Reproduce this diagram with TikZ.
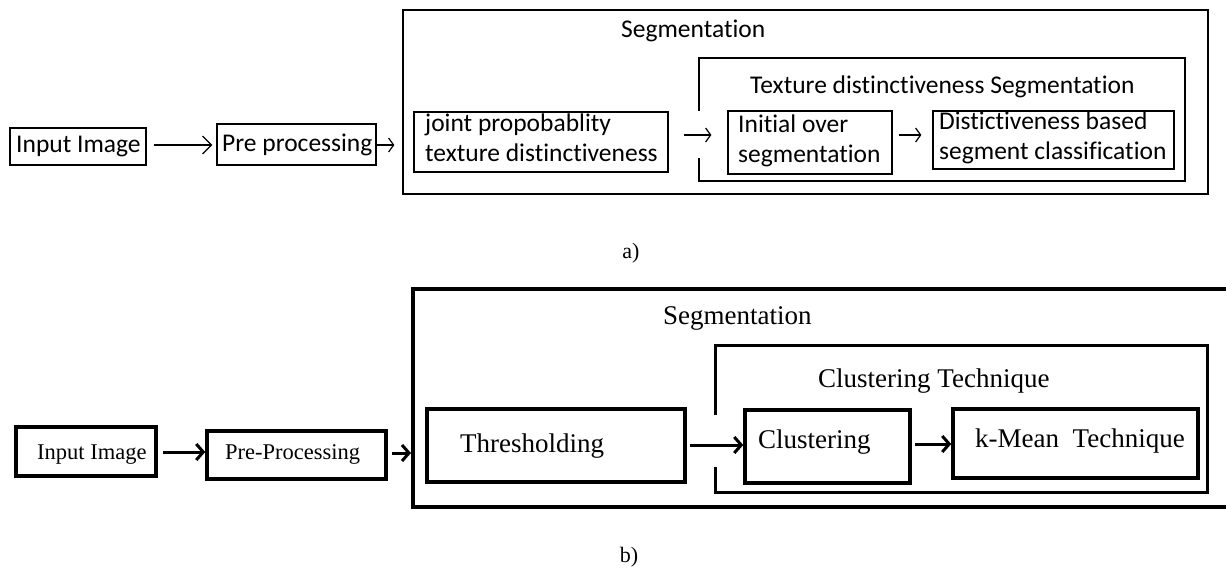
\documentclass[tikz,border=0pt]{standalone}
\usepackage{fontspec}
\setmainfont{Liberation Serif}
\newfontfamily\calfont[RawFeature={-liga;-clig;-dlig}]{Carlito}
\usetikzlibrary{arrows.meta}
\begin{document}
\begin{tikzpicture}[x=1pt,y=-1pt,
  boxA/.style={draw,line width=1.3pt,inner sep=0pt},
  boxB/.style={draw,line width=3.5pt,inner sep=0pt},
  txtA/.style={inner sep=0pt,font=\calfont\fontsize{25.5}{30}\selectfont,align=left},
  txtB/.style={inner sep=0pt,font=\fontsize{27}{32}\selectfont},
  txtBs/.style={inner sep=0pt,font=\fontsize{22.5}{27}\selectfont},
  arrA/.style={line width=1.3pt,-{Straight Barb[length=9pt,width=18pt,line width=1.2pt]}},
  arrAs/.style={line width=1.3pt,-{Straight Barb[length=5pt,width=14pt,line width=1.2pt]}},
  arrB/.style={line width=3pt,-{Straight Barb[length=7pt,width=16pt,line width=3pt]}},
  lbl/.style={inner sep=0pt,font=\fontsize{22}{26}\selectfont}
]
\useasboundingbox (0,0) rectangle (1226,569);
\clip (0,0) rectangle (1226,569);

% ---------------- a) ----------------
\node[boxA,minimum width=805pt,minimum height=184pt] (segA) at (805.5,102) {};
\node[boxA,minimum width=136pt,minimum height=37pt] (inA) at (78,146.5) {};
\node[boxA,minimum width=159pt,minimum height=41pt] (preA) at (296.5,144.5) {};
\node[boxA,minimum width=254pt,minimum height=60pt] (jointA) at (541,142) {};
\node[boxA,minimum width=164pt,minimum height=63pt] (initA) at (810,142.5) {};
\node[boxA,minimum width=241pt,minimum height=58pt] (distA) at (1053.5,140) {};
\draw[line width=1.3pt] (699,111) -- (699,58) -- (1185,58) -- (1185,181) -- (699,181) -- (699,158);

\node[txtA,anchor=base west] (tInA) at (16,153) {Input Image};
\node[txtA,anchor=base west] (tPreA) at (222,152) {Pre processing};
\node[txtA,anchor=base west] (tSegA) at (621,38) {Segmentation};
\node[txtA,anchor=base west] (tTexA) at (750,94) {Texture distinctiveness Segmentation};
\node[txtA,anchor=north west] (tJointA) at (425,114) {joint propobablity\\texture distinctiveness};
\node[txtA,anchor=north west] (tInitA) at (738,115) {Initial over\\segmentation};
\node[txtA,anchor=north west] (tDistA) at (939,112) {Distictiveness based\\segment classification};

\draw[arrA] ([xshift=7pt]inA.east |- 0,145) -- ([xshift=-4pt]preA.west |- 0,145);
\draw[arrAs] (preA.east |- 0,145) -- ([xshift=-8pt]segA.west |- 0,145);
\draw[arrAs] ([xshift=15pt]jointA.east |- 0,135) -- ([xshift=-16pt]initA.west |- 0,135);
\draw[arrAs] ([xshift=6pt]initA.east |- 0,135) -- ([xshift=-11pt]distA.west |- 0,135);

\node[lbl] (la) at (631,253) {a)};

% ---------------- b) ----------------
\node[draw,line width=4pt,inner sep=0pt,minimum width=840pt,minimum height=218pt] (segB) at (833,398) {};
\node[boxB,minimum width=140pt,minimum height=49pt] (inB) at (86,451.5) {};
\node[boxB,minimum width=179pt,minimum height=48pt] (preB) at (296.5,455) {};
\node[boxB,minimum width=258pt,minimum height=73pt] (thrB) at (556,445.5) {};
\node[boxB,minimum width=165pt,minimum height=73pt] (cluB) at (827.5,446.5) {};
\node[boxB,minimum width=245pt,minimum height=69pt] (kmB) at (1075.5,443.5) {};
\draw[line width=3pt] (715,415) -- (715,345) -- (1207,345) -- (1207,492) -- (715,492) -- (715,467);

\node[txtBs,anchor=base west] (tInB) at (37,459) {Input Image};
\node[txtBs,anchor=base west] (tPreB) at (225,459) {Pre-Processing};
\node[txtB,anchor=base west] (tSegB) at (663,324) {Segmentation};
\node[txtB,anchor=base west] (tThrB) at (460,452) {Thresholding};
\node[txtB,anchor=base west] (tCltB) at (818,387) {Clustering Technique};
\node[txtB,anchor=base west] (tCluB) at (758,448) {Clustering};
\node[txtB,anchor=base west] (tKmB) at (975,447) {k-Mean\ \ Technique};

\draw[arrB] ([xshift=5pt]inB.east |- 0,452) -- (preB.west |- 0,452);
\draw[arrB] ([xshift=4pt]preB.east |- 0,453) -- (segB.west |- 0,453);
\draw[arrB] ([xshift=3pt]thrB.east |- 0,445) -- (cluB.west |- 0,445);
\draw[arrB] ([xshift=3pt]cluB.east |- 0,444) -- (kmB.west |- 0,444);

\node[lbl] (lb) at (629,557) {b)};
\end{tikzpicture}
\end{document}
